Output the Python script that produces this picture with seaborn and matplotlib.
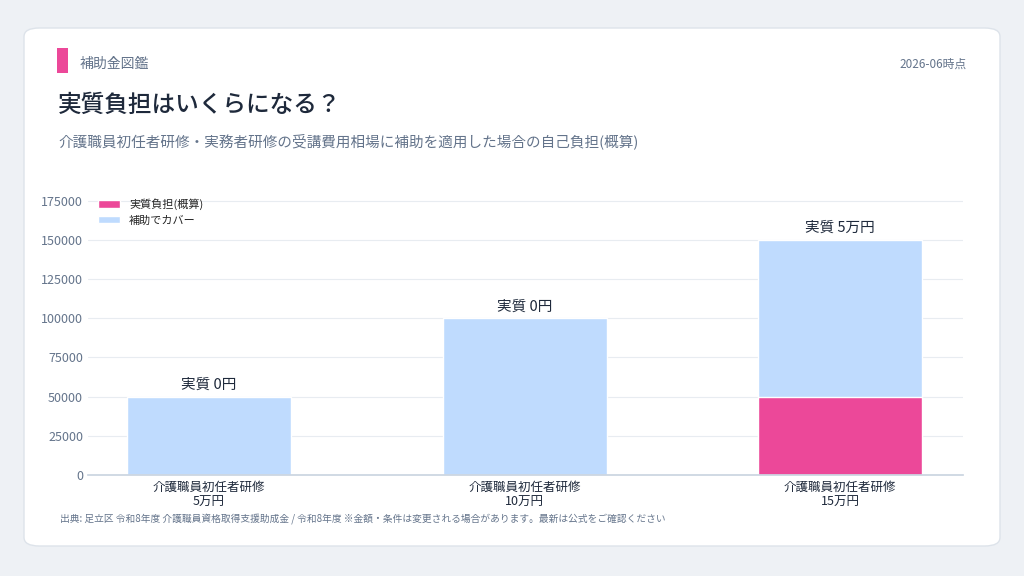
import matplotlib
matplotlib.use("Agg")
import matplotlib.pyplot as plt
import seaborn as sns
import pandas as pd
from matplotlib.patches import FancyBboxPatch, Rectangle

categories = ["介護職員初任者研修\n5万円", "介護職員初任者研修\n10万円", "介護職員初任者研修\n15万円"]
self_pay = [0, 0, 50000]
covered = [50000, 100000, 100000]
labels = ["実質 0円", "実質 0円", "実質 5万円"]

sns.set_theme(style="white")
plt.rcParams['font.family'] = ['Noto Sans CJK JP', 'DejaVu Sans']

fig = plt.figure(figsize=(10.24, 5.76), dpi=100)
fig.patch.set_facecolor("#eef1f5")
fig.patches.append(FancyBboxPatch((24/1024, 1-546/576), 976/1024, 518/576,
    boxstyle="round,pad=0,rounding_size=0.015", transform=fig.transFigure,
    facecolor="white", edgecolor="#dde3ea", linewidth=1, zorder=-10))
fig.patches.append(Rectangle((57/1024, 1-73/576), 11/1024, 25/576, transform=fig.transFigure,
    facecolor="#ec4899", edgecolor="none", zorder=-5))
fig.text(80/1024, 1-64/576, "補助金図鑑", fontsize=10, color="#64748b", va="center")
fig.text(967/1024, 1-64/576, "2026-06時点", fontsize=8.5, color="#64748b", va="center", ha="right")
fig.text(58/1024, 1-105/576, "実質負担はいくらになる？", fontsize=17, color="#1e293b", va="center", weight="medium")
fig.text(58/1024, 1-141/576, "介護職員初任者研修・実務者研修の受講費用相場に補助を適用した場合の自己負担(概算)",
         fontsize=10.5, color="#64748b", va="center")
fig.text(60/1024, 1-519/576, "出典: 足立区 令和8年度 介護職員資格取得支援助成金 / 令和8年度 ※金額・条件は変更される場合があります。最新は公式をご確認ください",
         fontsize=7, color="#64748b", va="center")

ax = fig.add_axes([88/1024, 1-475/576, 875/1024, 287/576])
ax.set_zorder(5)
df = pd.DataFrame({"cat": categories, "self": self_pay,
                   "total": [s + c for s, c in zip(self_pay, covered)]})
sns.barplot(data=df, x="cat", y="total", color="#bfdbfe", width=0.52, ax=ax,
            label="補助でカバー", saturation=1)
sns.barplot(data=df, x="cat", y="self", color="#ec4899", width=0.52, ax=ax,
            label="実質負担(概算)", saturation=1)
for i, (t, l) in enumerate(zip(df["total"], labels)):
    ax.text(i, t + 3000, l, ha="center", va="bottom", fontsize=10.5, color="#1e293b")
ax.set_xlim(-0.384, 2.39)
ax.set_ylim(0, 183000)
ax.set_yticks(range(0, 175001, 25000))
ax.set_xlabel(""); ax.set_ylabel("")
ax.patch.set_alpha(0)
ax.grid(axis="y", color="#e8ecf1", linewidth=0.8)
ax.set_axisbelow(True)
for s in ["top", "right", "left"]:
    ax.spines[s].set_visible(False)
ax.spines["bottom"].set_color("#cbd5e1")
ax.tick_params(axis="y", labelsize=9, colors="#64748b", length=0)
ax.tick_params(axis="x", labelsize=9, colors="#1e293b", length=0, pad=4)
h, lab = ax.get_legend_handles_labels()
order = [lab.index("実質負担(概算)"), lab.index("補助でカバー")]
ax.legend([h[i] for i in order], [lab[i] for i in order], loc="upper left",
          frameon=False, fontsize=8, handlelength=2, bbox_to_anchor=(0.0, 1.0))
fig.savefig("out.png", dpi=100, facecolor=fig.get_facecolor())
